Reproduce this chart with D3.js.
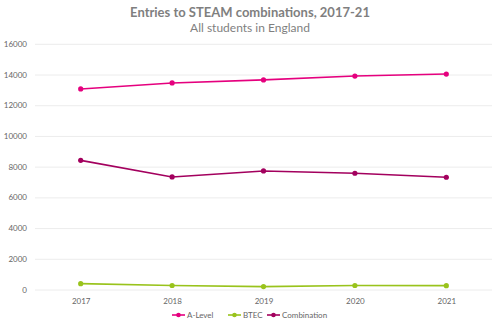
<!DOCTYPE html>
<html><head><meta charset="utf-8">
<script src="https://cdn.jsdelivr.net/npm/d3@7"></script>
<style>body{margin:0;background:#fff}svg{display:block;font-family:Lato,"Open Sans",sans-serif}</style>
</head><body><svg id="c" width="500" height="327"></svg>
<script>
const years = ["2017","2018","2019","2020","2021"];
const aLevel = [13060, 13450, 13650, 13900, 14030];
const btec = [380, 260, 190, 260, 250];
const combination = [8410, 7330, 7720, 7570, 7310];
const yTicks = [0,2000,4000,6000,8000,10000,12000,14000,16000];
const seriesNames = ["A-Level","BTEC","Combination"];
const colors = ["#e5007e","#99c31c","#a3005e"];

const series = [aLevel, btec, combination];
const svg = d3.select("#c");
const x = d3.scalePoint().domain(years).range([35,492]).padding(0.5);
const y = d3.scaleLinear().domain([0,16000]).range([289.5,43.8]);

svg.append("text").attr("x",250).attr("y",17).attr("text-anchor","middle")
  .attr("font-size",13).attr("font-weight","bold").attr("fill","#7f7f7f")
  .text("Entries to STEAM combinations, 2017-21");
svg.append("text").attr("x",250).attr("y",32).attr("text-anchor","middle")
  .attr("font-size",12).attr("fill","#7f7f7f").text("All students in England");

const ya = svg.append("g").attr("transform","translate(35,0)")
  .call(d3.axisLeft(y).tickValues(yTicks).tickSize(-457).tickFormat(d3.format("d")));
ya.select(".domain").remove();
ya.selectAll("line").attr("stroke","#ececec");
ya.selectAll("text").attr("fill","#666").attr("font-size",8).attr("x",-8).attr("font-family","Lato,sans-serif");

const xa = svg.append("g").attr("transform","translate(0,289.5)")
  .call(d3.axisBottom(x).tickSize(0));
xa.select(".domain").remove();
xa.selectAll("text").attr("fill","#666").attr("font-size",8).attr("dy","1.1em").attr("y",6).attr("font-family","Lato,sans-serif");

const line = d3.line().x((d,i)=>x(years[i])).y(d=>y(d));
series.forEach((s,k)=>{
  svg.append("path").datum(s).attr("d",line).attr("fill","none")
    .attr("stroke",colors[k]).attr("stroke-width",1.6);
  svg.selectAll(null).data(s).enter().append("circle")
    .attr("cx",(d,i)=>x(years[i])).attr("cy",d=>y(d)).attr("r",2.6).attr("fill",colors[k]);
});

const legX = [172, 228, 267];
const lg = svg.append("g").attr("transform","translate(0,315)");
seriesNames.forEach((n,k)=>{
  const g = lg.append("g").attr("transform",`translate(${legX[k]},0)`);
  g.append("line").attr("x1",0).attr("x2",13).attr("stroke",colors[k]).attr("stroke-width",1.6);
  g.append("circle").attr("cx",6.5).attr("r",2.3).attr("fill",colors[k]);
  g.append("text").attr("x",15).attr("dy","0.35em").attr("font-size",8).attr("fill","#666").text(n);
});
</script></body></html>
